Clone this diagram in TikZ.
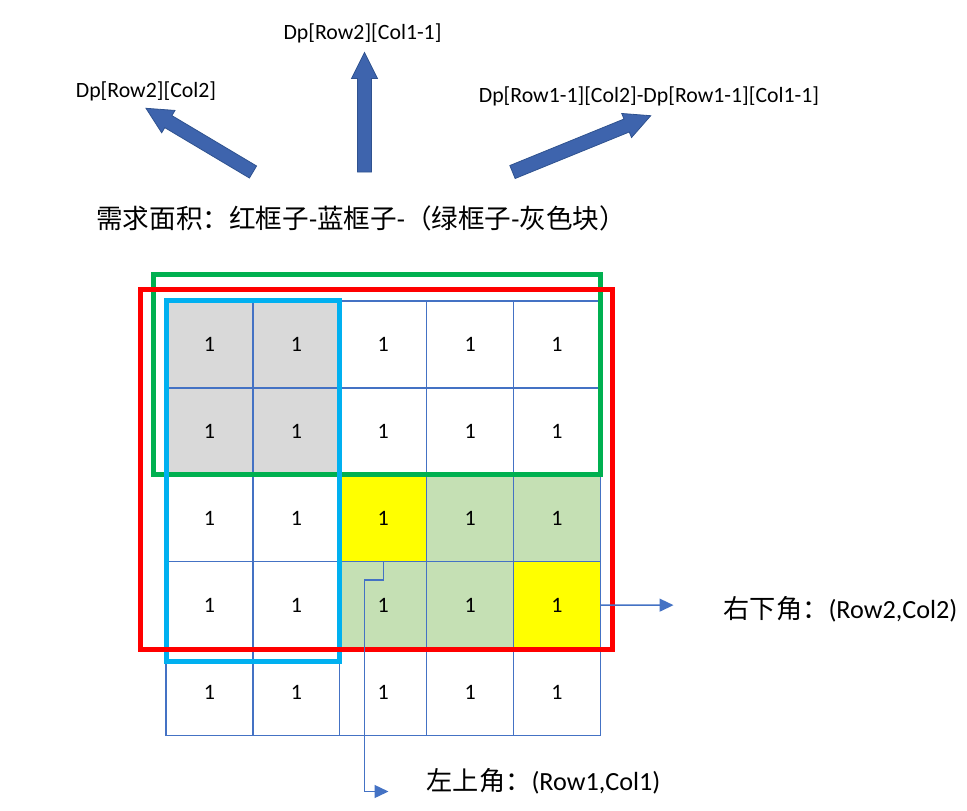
\documentclass[tikz,border=0pt]{standalone}
\usepackage{fontspec}
\setmainfont{Carlito}
\newfontfamily\cjk{Noto Sans CJK SC}
\usetikzlibrary{arrows.meta,calc}
\definecolor{gridblue}{HTML}{4472C4}
\definecolor{arrfill}{HTML}{3E64AD}
\definecolor{arredge}{HTML}{2F528F}
\definecolor{cgray}{HTML}{D9D9D9}
\definecolor{cyel}{HTML}{FFFF00}
\definecolor{cgrn}{HTML}{C5E0B4}
\definecolor{frgreen}{HTML}{00B050}
\definecolor{frred}{HTML}{FF0000}
\definecolor{frcyan}{HTML}{00B0F0}
\tikzset{
  cellbox/.style={minimum width=86.9pt,minimum height=86.9pt,inner sep=0pt,outer sep=0pt,
    font=\fontsize{22}{26}\selectfont},
  gridline/.style={draw=gridblue,line width=1.3pt},
  frame/.style={line width=5pt},
  conn/.style={draw=gridblue,line width=1.4pt,-{Triangle[length=14pt,width=13pt]}},
  barrow/.style={fill=arrfill,draw=arredge,line width=0.8pt,line join=miter},
  smalllab/.style={inner sep=0pt,font=\fontsize{21.8}{26}\selectfont},
  biglab/.style={inner sep=0pt,font=\fontsize{26.2}{30}\selectfont},
  titlelab/.style={inner sep=0pt,font=\fontsize{26.6}{30}\selectfont},
}
\newcommand\blockarr[2]{%
  \coordinate (#1b) at ($(#2)!26pt!(#1)$);
  \path[barrow] ($(#1)!7pt!90:(#2)$) -- ($(#1b)!7pt!90:(#2)$) -- ($(#1b)!13pt!90:(#2)$)
    -- (#2) -- ($(#1b)!13pt!-90:(#2)$) -- ($(#1b)!7pt!-90:(#2)$) -- ($(#1)!7pt!-90:(#2)$) -- cycle;}
\begin{document}
\begin{tikzpicture}[x=1pt,y=-1pt]
\useasboundingbox (0,0) rectangle (967,811);
% cells
\foreach \r/\c/\f in {1/1/cgray,1/2/cgray,1/3/white,1/4/white,1/5/white,
                      2/1/cgray,2/2/cgray,2/3/white,2/4/white,2/5/white,
                      3/1/white,3/2/white,3/3/cyel,3/4/cgrn,3/5/cgrn,
                      4/1/white,4/2/white,4/3/cgrn,4/4/cgrn,4/5/cyel,
                      5/1/white,5/2/white,5/3/white,5/4/white,5/5/white}{
  \node[cellbox,fill=\f] (c\r\c) at ({166+86.9*(\c-0.5)},{301+86.9*(\r-0.5)}) {1};
}
\foreach \r in {1,...,5}{\foreach \c in {1,...,5}{
  \draw[gridline] (c\r\c.north west) rectangle (c\r\c.south east);
}}
% frames
\draw[frame,frgreen] (153.2,274.8) rectangle (600.5,474.8);
\draw[frame,frcyan] (166.3,300.8) rectangle (339.6,661);
\draw[frame,frred] (140.8,289.2) rectangle (612.3,649);
% connectors
\coordinate (e1) at (388.5,791.5);
\coordinate (e2) at (673.5,605.15);
\draw[conn] (c33.south) -- ++(0,18.3) -- ++(-19,0) |- (e1);
\draw[conn] (c45.east) -- (e2);
% labels
\node[biglab,anchor=west] (lr) at (723.5,609) {{\cjk 右下角：}(Row2,Col2)};
\node[biglab,anchor=west] (ul) at (426.5,781) {{\cjk 左上角：}(Row1,Col1)};
\node[titlelab,anchor=west] (title) at (96,218) {{\cjk 需求面积：红框子}-{\cjk 蓝框子}-{\cjk （绿框子}-{\cjk 灰色块）}};
\node[smalllab] (dpA) at (146,91.5) {Dp[Row2][Col2]};
\node[smalllab] (dpB) at (362.5,33) {Dp[Row2][Col1-1]};
\node[smalllab] (dpC) at (649,96) {Dp[Row1-1][Col2]-Dp[Row1-1][Col1-1]};
% block arrows
\coordinate (tA) at (253,172);   \coordinate (hA) at (146,108.3);
\coordinate (tB) at (364.5,172); \coordinate (hB) at (364.5,52.5);
\coordinate (tC) at (512.5,172); \coordinate (hC) at (650.7,115.7);
\blockarr{tA}{hA}
\blockarr{tB}{hB}
\blockarr{tC}{hC}
\end{tikzpicture}
\end{document}
